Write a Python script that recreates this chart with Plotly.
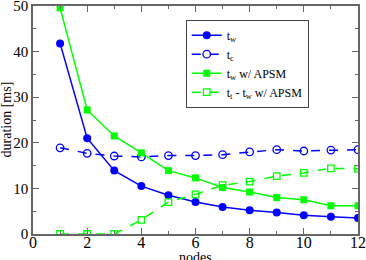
import plotly.graph_objects as go

nodes = [1, 2, 3, 4, 5, 6, 7, 8, 9, 10, 11, 12]
t_w = [41.8, 21.0, 13.9, 10.5, 8.5, 7.0, 5.9, 5.2, 4.7, 4.1, 3.8, 3.5]
t_c = [18.9, 17.7, 17.1, 16.9, 17.2, 17.2, 17.4, 18.0, 18.5, 18.2, 18.4, 18.5]
t_w_apsm = [49.6, 27.2, 21.5, 17.8, 13.9, 12.3, 10.2, 9.2, 8.0, 7.5, 6.2, 6.2]
t_t_minus_w_apsm = [0.0, 0.0, 0.0, 3.1, 7.0, 8.7, 10.7, 11.5, 12.7, 13.4, 14.4, 14.3]

BLUE = "#0000ff"
GREEN = "#00ff00"
SERIF = "Liberation Serif"
AXC = "#666"

fig = go.Figure()
fig.add_trace(go.Scatter(x=nodes, y=t_w, name="t<sub>w</sub>", mode="lines+markers",
                         line=dict(color=BLUE, width=1.5),
                         marker=dict(symbol="circle", size=8, color=BLUE)))
fig.add_trace(go.Scatter(x=nodes, y=t_c, name="t<sub>c</sub>", mode="lines+markers",
                         line=dict(color=BLUE, width=1.5, dash="dash"),
                         marker=dict(symbol="circle-open", size=7.5, color=BLUE, line=dict(width=1.3))))
fig.add_trace(go.Scatter(x=nodes, y=t_w_apsm, name="t<sub>w</sub> w/ APSM", mode="lines+markers",
                         line=dict(color=GREEN, width=1.5),
                         marker=dict(symbol="square", size=7, color=GREEN)))
fig.add_trace(go.Scatter(x=nodes, y=t_t_minus_w_apsm, name="t<sub>t</sub> - t<sub>w</sub> w/ APSM",
                         mode="lines+markers",
                         line=dict(color=GREEN, width=1.5, dash="dash"),
                         marker=dict(symbol="square-open", size=6.5, color=GREEN, line=dict(width=1.3))))

axis_common = dict(showgrid=False, zeroline=False, showline=True, linecolor=AXC, linewidth=1.5,
                   mirror="ticks", ticks="inside", ticklen=6, tickcolor=AXC, tickwidth=1,
                   automargin=False, ticklabeloverflow="allow")

fig.update_xaxes(range=[0, 12], dtick=2, ticklabelstandoff=-7,
                 tickfont=dict(family=SERIF, size=16, color="black"),
                 minor=dict(dtick=1, ticks="inside", ticklen=3, tickcolor=AXC), **axis_common)
fig.update_yaxes(range=[0, 50], dtick=10,
                 tickfont=dict(family=SERIF, size=15, color="black"),
                 minor=dict(dtick=5, ticks="inside", ticklen=3, tickcolor=AXC), **axis_common)

fig.add_annotation(text="nodes", xref="paper", yref="paper", x=0.5, y=0, yshift=-14,
                   xanchor="center", yanchor="top", showarrow=False,
                   font=dict(family=SERIF, size=14, color="black"))
fig.add_annotation(text="duration [ms]", xref="paper", yref="paper", x=0, y=0.5, xshift=-19,
                   xanchor="right", yanchor="middle", textangle=-90, showarrow=False,
                   borderpad=0,
                   font=dict(family=SERIF, size=14, color="black"))

fig.update_layout(
    width=366, height=260,
    margin=dict(l=33, r=8, t=6, b=26),
    plot_bgcolor="white", paper_bgcolor="white",
    showlegend=True,
    legend=dict(x=0.47, y=0.94, xanchor="left", yanchor="top",
                bordercolor="#444", borderwidth=1, bgcolor="white",
                font=dict(family=SERIF, size=12, color="black"),
                tracegroupgap=0, itemwidth=30),
)

fig.write_html("out.html", config={"displayModeBar": False},
               post_script="document.body.style.margin='0';")
